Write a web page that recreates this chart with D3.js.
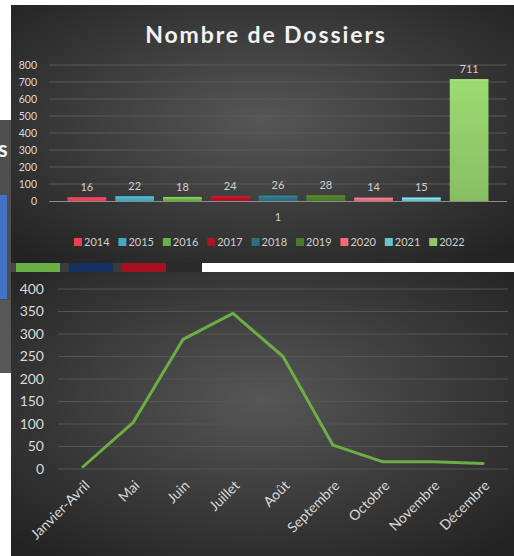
<!DOCTYPE html>
<html><head><meta charset="utf-8">
<script src="https://cdn.jsdelivr.net/npm/d3@7"></script>
<style>body{margin:0;background:#fff}svg{display:block}text{font-family:Lato,"Open Sans",sans-serif}</style>
</head><body><svg id="c" width="514" height="556"></svg>
<script>
// ---- data: bar chart
const barTitle = "Nombre de Dossiers";
const barCategory = ["1"];
const years = ["2014","2015","2016","2017","2018","2019","2020","2021","2022"];
const dossiers = [16,22,18,24,26,28,14,15,711];
const yearColors = ["#EE3E52","#41A9C0","#6BB042","#AC1426","#2B6F80","#4D7A2A","#F06A78","#6CC3D3","#8FC868"];
const barTicks = [0,100,200,300,400,500,600,700,800];
// ---- data: line chart
const months = ["Janvier-Avril","Mai","Juin","Juillet","Août","Septembre","Octobre","Novembre","Décembre"];
const monthValues = [5,103,288,346,250,53,16,16,12];
const lineTicks = [0,50,100,150,200,250,300,350,400];

const svg = d3.select("#c");
const defs = svg.append("defs");
const rg = defs.append("radialGradient").attr("id","bg").attr("cx","50%").attr("cy","45%").attr("r","70%");
rg.append("stop").attr("offset","0%").attr("stop-color","#565656");
rg.append("stop").attr("offset","100%").attr("stop-color","#232323");

// ---- background partial chart on the left
svg.append("rect").attr("x",0).attr("y",120).attr("width",11).attr("height",253).attr("fill","#4e4e4e");
svg.append("rect").attr("x",0).attr("y",300).attr("width",11).attr("height",73).attr("fill","#575757");
svg.append("text").attr("x",-2).attr("y",157).attr("fill","#f2f2f2").attr("font-size",22).attr("font-weight","bold").text("s");
svg.append("rect").attr("x",0).attr("y",195).attr("width",7).attr("height",104).attr("fill","#4472C4");

// ---- top panel
svg.append("rect").attr("x",11).attr("y",5).attr("width",503).attr("height",258).attr("fill","url(#bg)");
// strip
const strip = [[11,5,"#474747"],[16,44,"#6AAF45"],[60,9,"#3b3b3b"],[69,44,"#14305E"],[113,9,"#3b3b3b"],[122,44,"#A5121F"],[166,36,"#2a2a2a"],[202,312,"#ffffff"]];
svg.selectAll("rect.strip").data(strip).join("rect").attr("class","strip")
  .attr("x",d=>d[0]).attr("y",263).attr("width",d=>d[1]).attr("height",9).attr("fill",d=>d[2]);
svg.append("rect").attr("x",0).attr("y",263).attr("width",7).attr("height",9).attr("fill","#4472C4");
// bottom panel
svg.append("rect").attr("x",11).attr("y",272).attr("width",503).attr("height",284).attr("fill","url(#bg)");

// ---- bar chart
svg.append("text").attr("x",266).attr("y",43).attr("text-anchor","middle").attr("fill","#f2f2f2")
  .attr("font-size",23).attr("font-weight","bold").attr("letter-spacing",1.9).text(barTitle);
const yb = d3.scaleLinear().domain([0,800]).range([201,65]);
const x0 = d3.scaleBand().domain(barCategory).range([49,507]).paddingInner(0).paddingOuter(0.044);
const x1 = d3.scaleBand().domain(years).range([0,x0.bandwidth()]).paddingInner(0.19).paddingOuter(0);
const gb = svg.append("g");
gb.selectAll("line.grid").data(barTicks.slice(1)).join("line").attr("class","grid")
  .attr("x1",49).attr("x2",507).attr("y1",d=>yb(d)).attr("y2",d=>yb(d)).attr("stroke","#5a5a5a").attr("stroke-width",1);
gb.selectAll("text.yt").data(barTicks).join("text").attr("class","yt")
  .attr("x",37).attr("y",d=>yb(d)).attr("dy","0.35em").attr("text-anchor","end").attr("fill","#d9d9d9").attr("font-size",10.5).text(d=>d);
years.forEach((y,i)=>{
  const g = defs.append("linearGradient").attr("id","bar"+i).attr("x1",0).attr("x2",0).attr("y1",0).attr("y2",1);
  g.append("stop").attr("offset","0%").attr("stop-color",d3.color(yearColors[i]).brighter(0.25));
  g.append("stop").attr("offset","100%").attr("stop-color",d3.color(yearColors[i]).darker(0.15));
});
const bx = d => x0(barCategory[0]) + x1(years[d]);
gb.selectAll("rect.bar").data(d3.range(years.length)).join("rect").attr("class","bar")
  .attr("x",bx).attr("width",x1.bandwidth())
  .attr("y",i=>yb(dossiers[i])).attr("height",i=>yb(0)-yb(dossiers[i])).attr("fill",i=>`url(#bar${i})`);
gb.selectAll("rect.cap").data(d3.range(years.length)).join("rect").attr("class","cap")
  .attr("x",bx).attr("width",x1.bandwidth())
  .attr("y",i=>yb(dossiers[i])-1).attr("height",1.5).attr("fill",i=>d3.color(yearColors[i]).brighter(0.5));
gb.append("line").attr("x1",49).attr("x2",507).attr("y1",yb(0)+0.5).attr("y2",yb(0)+0.5).attr("stroke","#8c8c8c");
gb.selectAll("text.lab").data(d3.range(years.length)).join("text").attr("class","lab")
  .attr("x",i=>bx(i)+x1.bandwidth()/2).attr("y",i=>yb(dossiers[i])-11).attr("dy","0.35em")
  .attr("text-anchor","middle").attr("fill","#d0d0d0").attr("font-size",11).text(i=>dossiers[i]);
gb.append("text").attr("x",x0(barCategory[0])+x0.bandwidth()/2).attr("y",217).attr("dy","0.35em").attr("text-anchor","middle")
  .attr("fill","#d0d0d0").attr("font-size",11).text(barCategory[0]);
// legend
const lg = gb.selectAll("g.leg").data(years).join("g").attr("class","leg")
  .attr("transform",(d,i)=>`translate(${74+i*44.4},238)`);
lg.append("rect").attr("width",8).attr("height",8).attr("fill",(d,i)=>yearColors[i]);
lg.append("text").attr("x",10).attr("y",4).attr("dy","0.35em").attr("fill","#d0d0d0").attr("font-size",11).text(d=>d);

// ---- line chart
const yl = d3.scaleLinear().domain([0,400]).range([469,289]);
const xl = d3.scalePoint().domain(months).range([58,508]).padding(0.5);
const gl = svg.append("g");
gl.selectAll("line.grid").data(lineTicks).join("line").attr("class","grid")
  .attr("x1",58).attr("x2",508).attr("y1",d=>yl(d)).attr("y2",d=>yl(d)).attr("stroke","#555555").attr("stroke-width",1);
gl.selectAll("text.yt").data(lineTicks).join("text").attr("class","yt")
  .attr("x",44).attr("y",d=>yl(d)).attr("dy","0.35em").attr("text-anchor","end").attr("fill","#d9d9d9").attr("font-size",14).text(d=>d);
gl.selectAll("text.xt").data(months).join("text").attr("class","xt")
  .attr("transform",d=>`translate(${xl(d)+4},${483}) rotate(-45)`).attr("text-anchor","end").attr("dy","0.35em")
  .attr("fill","#d9d9d9").attr("font-size",14).text(d=>d);
const line = d3.line().x((d,i)=>xl(months[i])).y(d=>yl(d));
gl.append("path").datum(monthValues).attr("d",line).attr("fill","none").attr("stroke","#6CAE45")
  .attr("stroke-width",3).attr("stroke-linejoin","round").attr("stroke-linecap","round");
</script></body></html>
